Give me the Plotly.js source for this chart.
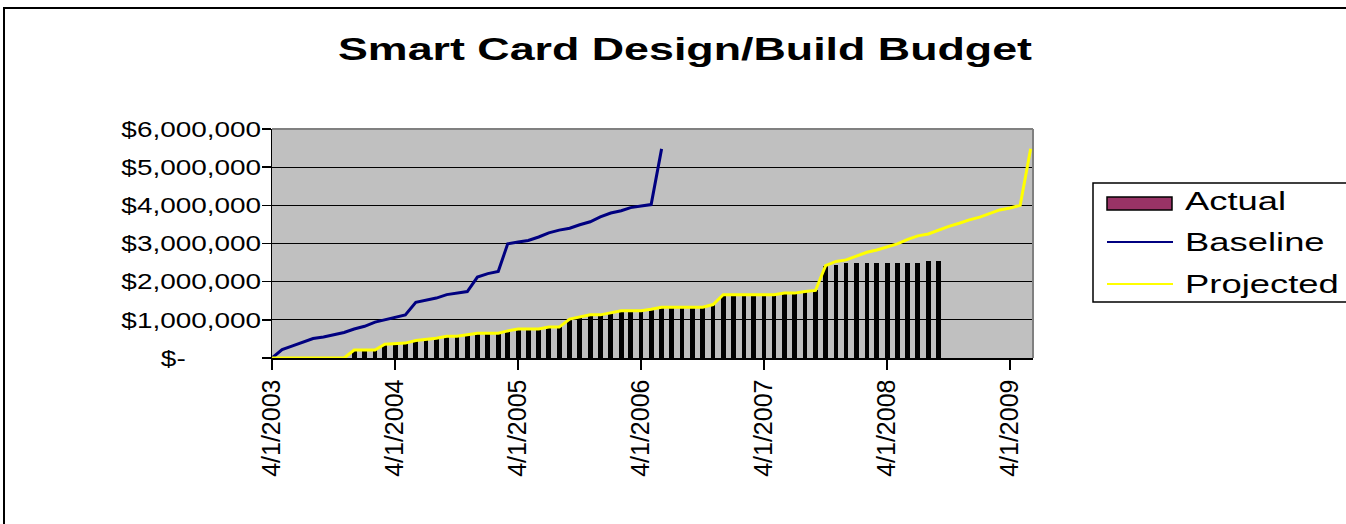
<!DOCTYPE html>
<html>
<head>
<meta charset="utf-8">
<script src="https://cdn.plot.ly/plotly-3.0.1.min.js"></script>
<style>
html,body{margin:0;padding:0;background:#fff;overflow:hidden;width:1346px;height:524px;}
#frame{position:absolute;left:3px;top:7px;width:1400px;height:600px;border:2px solid #000;box-sizing:border-box;}
#chart{position:absolute;left:0;top:0;width:1346px;height:524px;}
#chart .gtitle{transform-box:fill-box;transform-origin:50% 50%;transform:scaleX(1.4);}
#chart .annotation-text{transform-box:fill-box;transform-origin:0% 50%;transform:scaleX(1.4);}
#chart .yaxislayer-above .ytick text{transform-box:fill-box;transform-origin:100% 50%;scale:1.27 1;translate:4px 0;}
</style>
</head>
<body>
<div id="frame"></div>
<div id="chart"></div>
<script>
// Monthly points, 4/1/2003 .. 6/1/2009
const months = [
 '2003-04-01','2003-05-01','2003-06-01','2003-07-01','2003-08-01','2003-09-01','2003-10-01','2003-11-01','2003-12-01',
 '2004-01-01','2004-02-01','2004-03-01','2004-04-01','2004-05-01','2004-06-01','2004-07-01','2004-08-01','2004-09-01','2004-10-01','2004-11-01','2004-12-01',
 '2005-01-01','2005-02-01','2005-03-01','2005-04-01','2005-05-01','2005-06-01','2005-07-01','2005-08-01','2005-09-01','2005-10-01','2005-11-01','2005-12-01',
 '2006-01-01','2006-02-01','2006-03-01','2006-04-01','2006-05-01','2006-06-01','2006-07-01','2006-08-01','2006-09-01','2006-10-01','2006-11-01','2006-12-01',
 '2007-01-01','2007-02-01','2007-03-01','2007-04-01','2007-05-01','2007-06-01','2007-07-01','2007-08-01','2007-09-01','2007-10-01','2007-11-01','2007-12-01',
 '2008-01-01','2008-02-01','2008-03-01','2008-04-01','2008-05-01','2008-06-01','2008-07-01','2008-08-01','2008-09-01','2008-10-01','2008-11-01','2008-12-01',
 '2009-01-01','2009-02-01','2009-03-01','2009-04-01','2009-05-01','2009-06-01'
];

// Baseline: 4/1/2003 .. 6/1/2006
const baseline = [
 0, 220000, 320000, 410000, 510000, 550000, 610000, 670000, 760000,
 830000, 940000, 1000000, 1060000, 1130000, 1460000, 1520000, 1570000, 1660000, 1700000, 1740000, 2120000,
 2210000, 2270000, 2990000, 3040000, 3080000, 3170000, 3280000, 3350000, 3400000, 3490000, 3570000, 3700000,
 3800000, 3860000, 3940000, 3980000, 4020000, 5480000
];

// Actual: 12/1/2003 .. 9/1/2008
const actualStart = 8;
const actual = [
 210000,
 210000, 210000, 360000, 380000, 390000, 460000, 480000, 520000, 570000, 570000, 610000, 650000,
 650000, 650000, 710000, 760000, 760000, 760000, 810000, 810000, 1020000, 1070000, 1130000, 1130000,
 1180000, 1240000, 1240000, 1240000, 1280000, 1330000, 1310000, 1310000, 1310000, 1320000, 1390000, 1660000,
 1660000, 1660000, 1660000, 1660000, 1660000, 1700000, 1700000, 1740000, 1770000, 2420000, 2440000, 2490000,
 2490000, 2490000, 2490000, 2490000, 2490000, 2490000, 2490000, 2540000, 2540000
];

// Projected: 4/1/2003 .. 6/1/2009
const projected = [
 0, 0, 0, 0, 0, 0, 0, 0, 210000,
 210000, 210000, 360000, 380000, 390000, 460000, 480000, 520000, 570000, 570000, 610000, 650000,
 650000, 650000, 710000, 760000, 760000, 760000, 810000, 810000, 1020000, 1070000, 1130000, 1130000,
 1180000, 1240000, 1240000, 1240000, 1280000, 1330000, 1330000, 1330000, 1330000, 1330000, 1400000, 1660000,
 1660000, 1660000, 1660000, 1660000, 1660000, 1700000, 1700000, 1740000, 1770000, 2420000, 2530000, 2570000,
 2680000, 2770000, 2830000, 2920000, 2990000, 3110000, 3200000, 3250000, 3360000, 3450000, 3530000, 3620000,
 3690000, 3780000, 3880000, 3930000, 4000000, 5480000
];

const NB = '\u00A0';
const yTickVals = [0, 1000000, 2000000, 3000000, 4000000, 5000000, 6000000];
const yTickText = ['$-' + NB.repeat(9) + '\u2009', '$1,000,000', '$2,000,000', '$3,000,000', '$4,000,000', '$5,000,000', '$6,000,000'];
const xTickVals = ['2003-04-01','2004-04-01','2005-04-01','2006-04-01','2007-04-01','2008-04-01','2009-04-01'];
const xTickText = ['4/1/2003','4/1/2004','4/1/2005','4/1/2006','4/1/2007','4/1/2008','4/1/2009'];
const seriesNames = ['Actual', 'Baseline', 'Projected'];
const colors = {actualBar:'#000000', actualKey:'#993366', baseline:'#000080', projected:'#FFFF00'};

const FONT = 'Liberation Sans, Arial, sans-serif';

const traces = [
  {type:'bar', name:seriesNames[0], x:months.slice(actualStart, actualStart + actual.length), y:actual,
   width:14*86400000, marker:{color:colors.actualBar, line:{width:0}}, showlegend:false},
  {type:'scatter', mode:'lines', name:seriesNames[1], x:months.slice(0, baseline.length), y:baseline,
   line:{color:colors.baseline, width:3}, showlegend:false},
  {type:'scatter', mode:'lines', name:seriesNames[2], x:months.slice(0, projected.length), y:projected,
   line:{color:colors.projected, width:3}, showlegend:false}
];

// plot area: x 272..1033, y 129..358 (px)
const L = 272, R = 1033, T = 129, B = 358;
const px = v => (v - L) / (R - L);
const py = v => (B - v) / (B - T);

const legendRows = [201, 242, 284];

const shapes = [
  {type:'line', xref:'paper', yref:'paper', x0:0, x1:1, y0:1, y1:1, line:{color:'#808080', width:2}},
  {type:'line', xref:'paper', yref:'paper', x0:1, x1:1, y0:0, y1:1, line:{color:'#808080', width:2}},
  {type:'rect', xref:'paper', yref:'paper', x0:px(1093), x1:px(1360), y0:py(302), y1:py(183), line:{color:'#000', width:1.5}, fillcolor:'rgba(0,0,0,0)'},
  {type:'rect', xref:'paper', yref:'paper', x0:px(1107), x1:px(1172), y0:py(210), y1:py(197), line:{color:'#000', width:1.5}, fillcolor:colors.actualKey},
  {type:'line', xref:'paper', yref:'paper', x0:px(1107), x1:px(1173), y0:py(legendRows[1]), y1:py(legendRows[1]), line:{color:colors.baseline, width:2}},
  {type:'line', xref:'paper', yref:'paper', x0:px(1107), x1:px(1173), y0:py(legendRows[2]), y1:py(legendRows[2]), line:{color:colors.projected, width:2}}
];

const annotations = seriesNames.map((n, i) => ({
  xref:'paper', yref:'paper', x:px(1183), y:py(legendRows[i]), xanchor:'left', yanchor:'middle',
  text:n, showarrow:false, font:{family:FONT, size:26, color:'#000'}
}));

const layout = {
  width:1346, height:524,
  margin:{l:L, r:1346-R, t:T, b:524-B, pad:0},
  paper_bgcolor:'rgba(0,0,0,0)',
  plot_bgcolor:'#C0C0C0',
  showlegend:false,
  bargap:0,
  title:{text:'Smart Card Design/Build Budget', font:{family:FONT, size:32, weight:'bold', color:'#000'},
         xref:'paper', x:px(685), xanchor:'center', yref:'container', y:1-49/524, yanchor:'middle'},
  xaxis:{type:'date', range:['2003-04-01','2009-06-08'], tickvals:xTickVals, ticktext:xTickText,
         tickangle:-90, ticks:'outside', ticklen:10, tickwidth:1.5, tickcolor:'#000',
         showline:true, linecolor:'#000', linewidth:1.5, showgrid:false, zeroline:false,
         tickfont:{family:FONT, size:25, color:'#000'}},
  yaxis:{range:[0, 6000000], tickvals:yTickVals, ticktext:yTickText,
         ticks:'outside', ticklen:9, tickwidth:1.5, tickcolor:'#000',
         showline:true, linecolor:'#000', linewidth:1.5,
         showgrid:true, gridcolor:'#000', gridwidth:1, zeroline:false,
         tickfont:{family:FONT, size:22, color:'#000'}},
  shapes:shapes,
  annotations:annotations
};

Plotly.newPlot('chart', traces, layout, {staticPlot:true, displayModeBar:false});
</script>
</body>
</html>
